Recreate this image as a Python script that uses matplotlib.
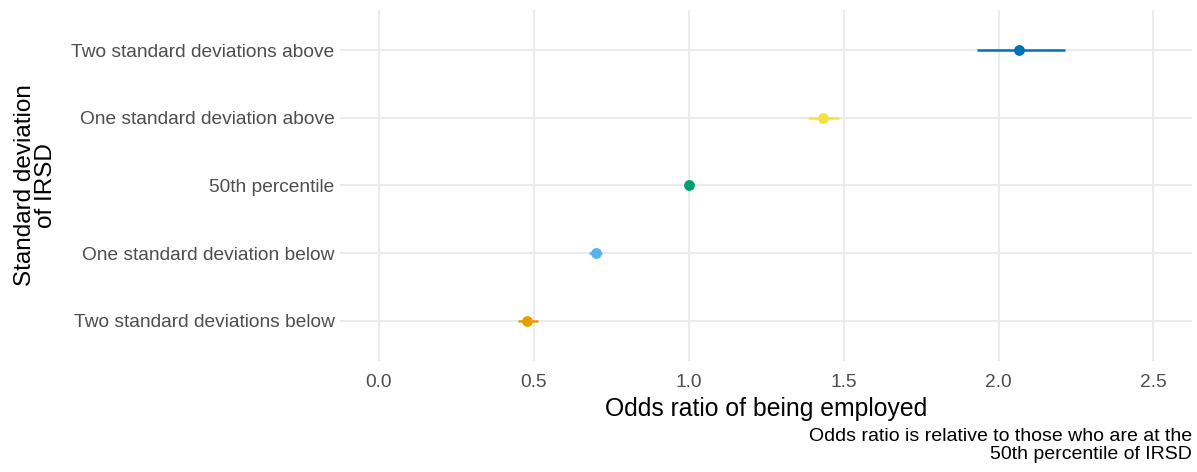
import matplotlib
matplotlib.use("Agg")
import matplotlib.pyplot as plt

plt.rcParams['font.family'] = ['Liberation Sans', 'DejaVu Sans']

# IRSD groups, bottom to top
groups = [
    "Two standard deviations below",
    "One standard deviation below",
    "50th percentile",
    "One standard deviation above",
    "Two standard deviations above",
]
odds_ratio = [0.48, 0.70, 1.00, 1.435, 2.065]
ci_low = [0.45, 0.68, 1.00, 1.385, 1.93]
ci_high = [0.515, 0.72, 1.00, 1.485, 2.215]
colors = ["#E69F00", "#56B4E9", "#009E73", "#F0E442", "#0072B2"]
x_ticks = [0.0, 0.5, 1.0, 1.5, 2.0, 2.5]

fig = plt.figure(figsize=(11.97, 4.72), dpi=100)
ax = fig.add_axes([0.284, 0.235, 0.712, 0.744])

ypos = list(range(len(groups)))
for y, est, lo, hi, c in zip(ypos, odds_ratio, ci_low, ci_high, colors):
    ax.plot([lo, hi], [y, y], color=c, lw=1.8, solid_capstyle='butt', zorder=3)
    ax.plot([est], [y], 'o', color=c, markersize=7.8, markeredgewidth=0, zorder=4)

ax.set_xlim(-0.125, 2.625)
ax.set_ylim(-0.6, len(groups) - 0.4)
ax.set_xticks(x_ticks)
ax.set_xticklabels([f"{t:.1f}" for t in x_ticks])
ax.set_yticks(ypos)
ax.set_yticklabels(groups)

ax.grid(True, color="#EBEBEB", lw=1.5)
ax.set_axisbelow(True)
for s in ax.spines.values():
    s.set_visible(False)
ax.tick_params(length=0, labelsize=13.8, labelcolor="#4D4D4D")
ax.tick_params(axis='y', pad=4)
ax.tick_params(axis='x', pad=9)

ax.set_xlabel("Odds ratio of being employed", fontsize=17.8, color="black", va='center')
ax.xaxis.set_label_coords(0.5, -0.137)
ax.set_ylabel("Standard deviation\nof IRSD", fontsize=17.5, color="black",
              va='center', ha='center', multialignment='center', linespacing=0.95)
ax.yaxis.set_label_coords(-0.357, 0.5)

fig.text(0.996, 0.02, "Odds ratio is relative to those who are at the\n50th percentile of IRSD",
         ha='right', va='bottom', fontsize=14, color="black", linespacing=1.05)

fig.savefig("out.png", dpi=100, facecolor="white")
